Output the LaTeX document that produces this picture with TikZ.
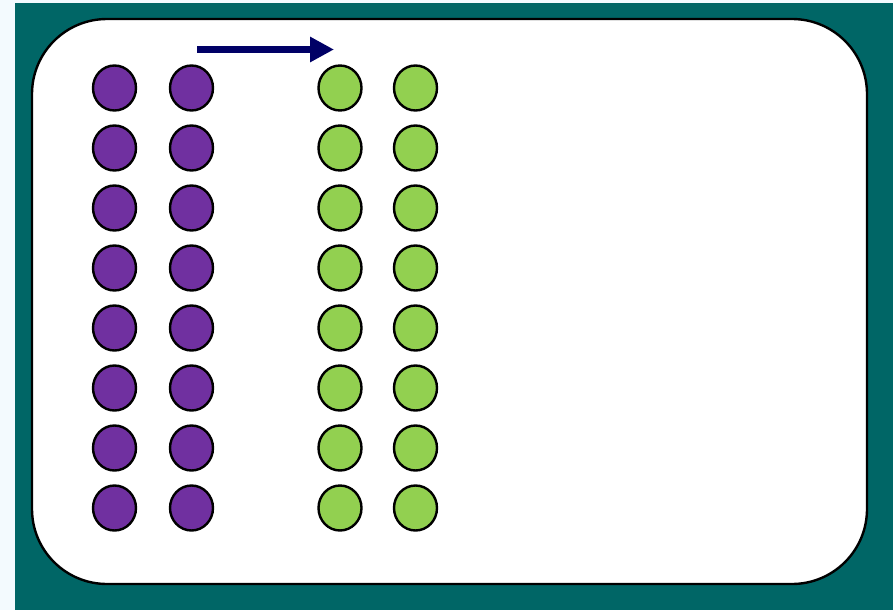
\documentclass[tikz,border=0pt]{standalone}
\usetikzlibrary{shapes.geometric,arrows.meta}
\definecolor{bgstrip}{HTML}{F3FAFE}
\definecolor{teal}{HTML}{006666}
\definecolor{purp}{HTML}{7030A0}
\definecolor{lgreen}{HTML}{92D050}
\definecolor{navy}{HTML}{000066}
\tikzset{
  dot/.style={ellipse, draw=black, line width=2.4pt, minimum width=43pt, minimum height=45pt, inner sep=0pt},
  pdot/.style={dot, fill=purp},
  gdot/.style={dot, fill=lgreen},
}
\begin{document}
\begin{tikzpicture}[x=1pt,y=-1pt]
\useasboundingbox (0,0) rectangle (893,610);
\fill[bgstrip] (0,0) rectangle (893,610);
\fill[teal] (15,3) rectangle (893,610);
\draw[line width=2.4pt, fill=white, rounded corners=75pt] (32,19) rectangle (867,584);
\coordinate (as) at (197,49.5);
\coordinate (ae) at (334,49.5);
\draw[navy, line width=7pt, -{Triangle[length=24pt,width=24pt]}] (as) -- (ae);
\foreach \i in {0,...,7}{
  \node[pdot] (pa\i) at (114.5, 88+60*\i) {};
  \node[pdot] (pb\i) at (191.5, 88+60*\i) {};
  \node[gdot] (ga\i) at (340, 88+60*\i) {};
  \node[gdot] (gb\i) at (415.5, 88+60*\i) {};
}
\end{tikzpicture}
\end{document}
